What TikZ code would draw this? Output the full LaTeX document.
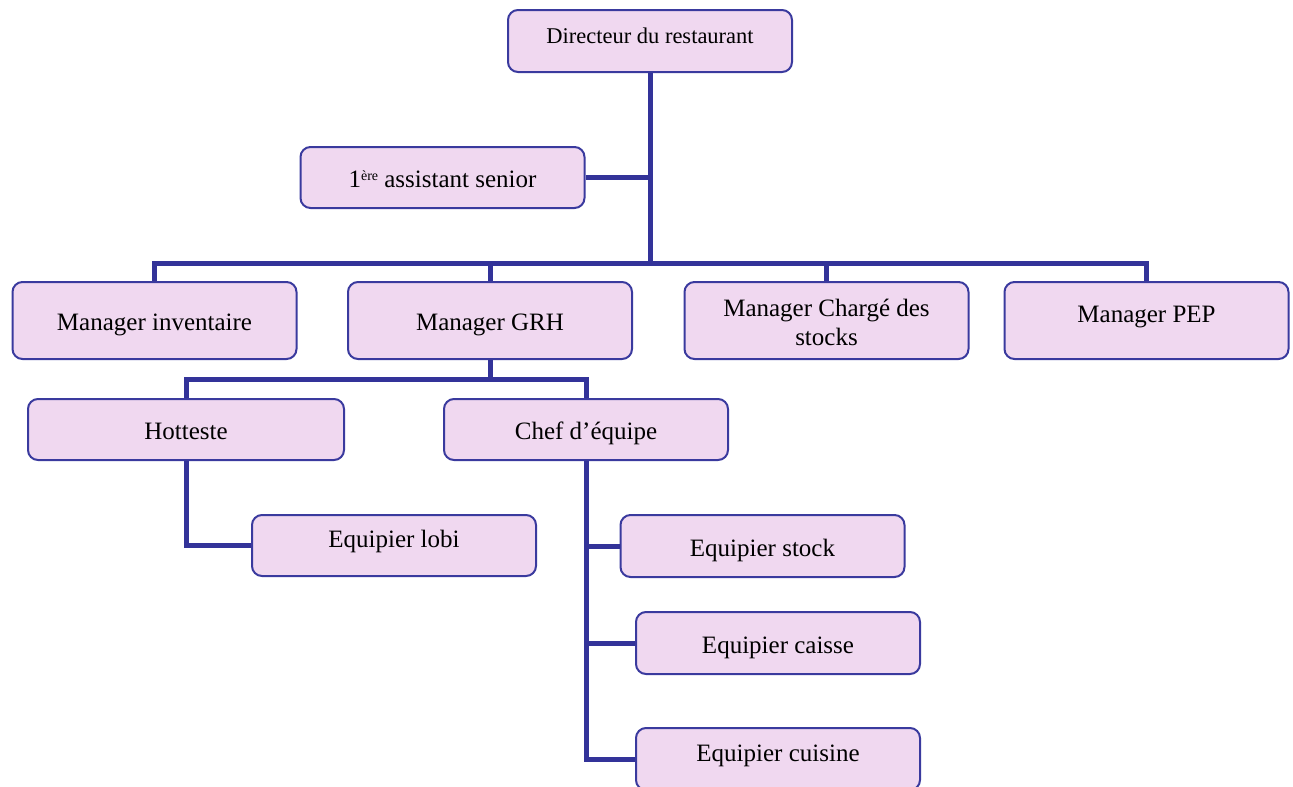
\documentclass[tikz,border=0pt]{standalone}
\usepackage{fontspec}
\setmainfont{Liberation Serif}
\usetikzlibrary{positioning}
\definecolor{boxfill}{HTML}{F0D8F0}
\definecolor{boxline}{HTML}{3A3A9E}
\definecolor{linkcol}{HTML}{333399}
\begin{document}
\begin{tikzpicture}[
		x=1pt, y=-1pt,
		box/.style={draw=boxline, line width=2pt, fill=boxfill, rounded corners=10pt,
			inner sep=0pt, minimum width=284pt, minimum height=62pt,
			text height=25pt, text depth=5pt, align=center,
			font=\fontsize{25}{29}\selectfont},
		tall/.style={minimum height=77pt},
		raised/.style={text depth=21pt},
		link/.style={draw=linkcol, line width=5pt},
	]
	\useasboundingbox (0,0) rectangle (1293,787);
	% top
	\node[box, raised, font=\fontsize{22.5}{26}\selectfont] (dir) at (650,41) {Directeur du restaurant};
	\node[box, minimum height=61pt] (asst) at (442.5,177.5) {1{\fontsize{14}{14}\selectfont\raisebox{7pt}{ère}} assistant senior};
	% managers
	\node[box, tall] (inv) at (154.5,320.5) {Manager inventaire};
	\node[box, tall] (grh) at (490,320.5) {Manager GRH};
	\node[box, tall, text height=54pt] (chg) at (826.5,320.5) {Manager Chargé des\\stocks};
	\node[box, tall, raised] (pep) at (1146.5,320.5) {Manager PEP};
	% under GRH
	\node[box, minimum width=316pt, minimum height=61pt] (hot) at (186,429.5) {Hotteste};
	\node[box, minimum height=61pt] (chef) at (586,429.5) {Chef d’équipe};
	\node[box, raised, minimum height=61pt] (lobi) at (394,545.5) {Equipier lobi};
	% equipiers
	\node[box] (stock) at (762.5,546) {Equipier stock};
	\node[box] (caisse) at (778,643) {Equipier caisse};
	\node[box, raised] (cuisine) at (778,759) {Equipier cuisine};
	
	\coordinate (bar) at (650,263);
	\coordinate (split) at (490,379);
	
	\draw[link] (dir) -- (bar);
	\draw[link] (asst.east) -- (asst.east -| dir);
	\draw[link] (inv.north) |- (bar) -| (pep.north);
	\draw[link] (grh.north) -- (grh.north |- bar);
	\draw[link] (chg.north) -- (chg.north |- bar);
	\draw[link] (grh.south) -- (split);
	\draw[link] (hot.north) |- (split) -| (chef.north);
	\draw[link] (hot.south) |- (lobi.west);
	\draw[link] (chef.south) |- (cuisine.west);
	\draw[link] (stock.west) -- (stock.west -| chef.south);
	\draw[link] (caisse.west) -- (caisse.west -| chef.south);
\end{tikzpicture}
\end{document}
